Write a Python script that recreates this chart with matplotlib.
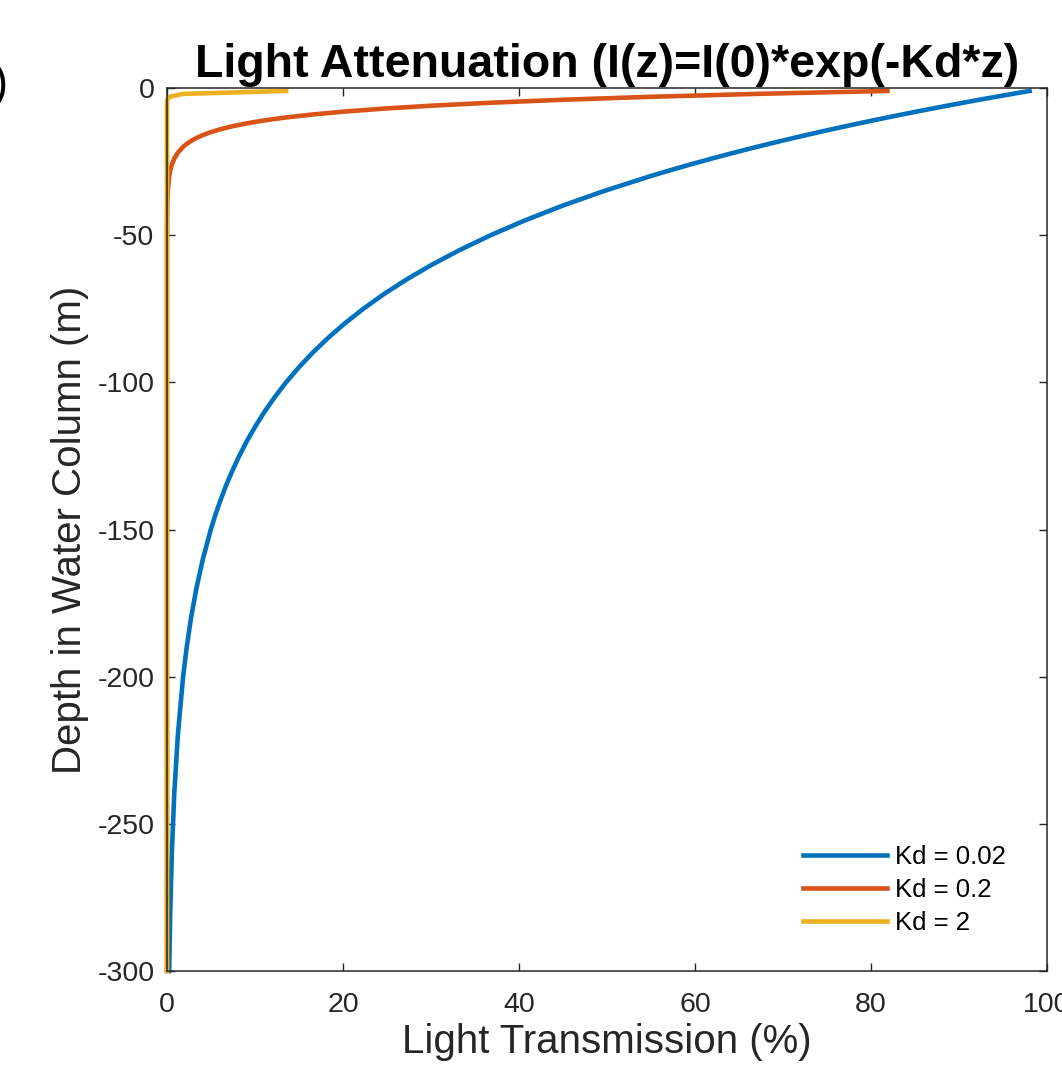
import numpy as np
import matplotlib.pyplot as plt

plt.rcParams['font.family'] = ['Liberation Sans', 'DejaVu Sans']
plt.rcParams['axes.unicode_minus'] = False

# depth below surface (m)
depth = [1, 2, 3, 4, 5, 6, 7, 8, 9, 10, 11, 12, 13, 14, 15, 16, 17, 18, 19, 20,
         22, 24, 26, 28, 30, 35, 40, 45, 50, 55, 60, 65, 70, 75, 80, 85, 90, 95,
         100, 105, 110, 115, 120, 125, 130, 135, 140, 145, 150, 160, 170, 180,
         190, 200, 220, 240, 260, 280, 300]

# light transmission (%) for each Kd
kd_002 = [98.02, 96.08, 94.18, 92.31, 90.48, 88.69, 86.94, 85.21, 83.53, 81.87,
          80.25, 78.66, 77.11, 75.58, 74.08, 72.61, 71.18, 69.77, 68.39, 67.03,
          64.40, 61.88, 59.45, 57.12, 54.88, 49.66, 44.93, 40.66, 36.79, 33.29,
          30.12, 27.25, 24.66, 22.31, 20.19, 18.27, 16.53, 14.96, 13.53, 12.25,
          11.08, 10.03, 9.07, 8.21, 7.43, 6.72, 6.08, 5.50, 4.98, 4.08, 3.34,
          2.73, 2.24, 1.83, 1.23, 0.82, 0.55, 0.37, 0.25]
kd_02 = [81.87, 67.03, 54.88, 44.93, 36.79, 30.12, 24.66, 20.19, 16.53, 13.53,
         11.08, 9.07, 7.43, 6.08, 4.98, 4.08, 3.34, 2.73, 2.24, 1.83,
         1.23, 0.82, 0.55, 0.37, 0.25, 0.09, 0.03, 0.01] + [0.0] * 31
kd_2 = [13.53, 1.83, 0.25, 0.03] + [0.0] * 55

labels = ['Kd = 0.02', 'Kd = 0.2', 'Kd = 2']
colors = ['#0072BD', '#D95319', '#EDB120']

fig = plt.figure(figsize=(10.62, 10.78), dpi=100)
ax = fig.add_axes([167/1062, 1 - 971/1078, 880/1062, 883/1078])

z = -np.array(depth)
for vals, lab, c in zip([kd_002, kd_02, kd_2], labels, colors):
    ax.plot(vals, z, color=c, lw=3.3, label=lab, clip_on=False,
            solid_joinstyle='round')

ax.set_xlim(0, 100)
ax.set_ylim(-300, 0)
ax.set_xticks([0, 20, 40, 60, 80, 100])
ax.set_yticks([-300, -250, -200, -150, -100, -50, 0])
ax.tick_params(direction='in', length=6, width=1, colors='#262626',
               labelsize=20.5, top=True, right=True)
ax.tick_params(axis='x', pad=15)
ax.tick_params(axis='y', pad=9)
for s in ax.spines.values():
    s.set_color('#262626')
    s.set_linewidth(1.1)

ax.set_xlabel('Light Transmission (%)', fontsize=29, color='#262626', labelpad=4)
ax.set_ylabel('Depth in Water Column (m)', fontsize=29, color='#262626', labelpad=6)
ax.set_title('Light Attenuation (I(z)=I(0)*exp(-Kd*z)', fontsize=33.5,
             fontweight='bold', pad=8)

ax.legend(loc='lower right', bbox_to_anchor=(1 - 5/880, 0), frameon=False,
          fontsize=18.5, handlelength=3.3, handletextpad=0.3,
          labelspacing=0.36, borderaxespad=1.0)

fig.text(8/1062, 1 - 85/1078, '(a)', ha='right', va='center', fontsize=33)

fig.savefig('out.png', dpi=100)
